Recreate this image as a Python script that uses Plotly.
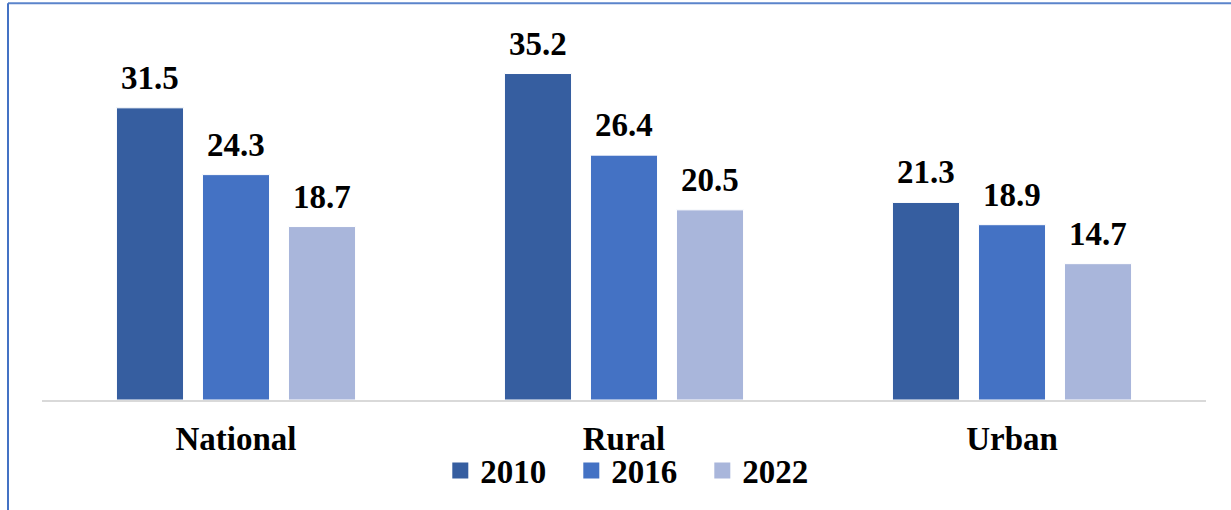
import plotly.graph_objects as go

categories = ["National", "Rural", "Urban"]
years = ["2010", "2016", "2022"]
values_2010 = [31.5, 35.2, 21.3]
values_2016 = [24.3, 26.4, 18.9]
values_2022 = [18.7, 20.5, 14.7]
colors = ["#365EA0", "#4472C4", "#A9B6DB"]

series = [values_2010, values_2016, values_2022]

FONT = "Liberation Serif"
W, H = 1231, 510
ML, MR, MT, MB = 42, 25, 29, 108
BARGAP = 0.335
GROUPGAP = 0.22

fig = go.Figure()
for yr, vals, col in zip(years, series, colors):
    fig.add_trace(go.Bar(
        x=categories, y=vals, name=yr, showlegend=False, legendgroup=yr,
        marker=dict(color=col, line=dict(color="white", width=1)),
        hovertemplate="%{x}, " + yr + ": %{y}<extra></extra>",
    ))
# legend entries (square swatches)
for yr, col in zip(years, colors):
    fig.add_trace(go.Scatter(
        x=[None], y=[None], mode="markers", name=f"<b>{yr}</b>",
        legendgroup=yr, showlegend=True, hoverinfo="skip",
        marker=dict(symbol="square", size=16, color=col),
    ))

# value labels above bars (annotations anchored to data coordinates)
plot_w = W - ML - MR
slot = plot_w / len(categories)
bar_slot = slot * (1 - BARGAP) / len(series)
annotations = []
for i, vals in enumerate(series):
    shift = (i - (len(series) - 1) / 2) * bar_slot
    for c, v in zip(categories, vals):
        annotations.append(dict(
            x=c, y=v, xref="x", yref="y", text=f"<b>{v:.1f}</b>",
            showarrow=False, xshift=shift, yanchor="bottom", yshift=10,
            font=dict(family=FONT, size=33, color="#000000"),
        ))

fig.update_layout(
    width=W, height=H,
    margin=dict(l=ML, r=MR, t=MT, b=MB),
    paper_bgcolor="white", plot_bgcolor="white",
    barmode="group", bargap=BARGAP, bargroupgap=GROUPGAP,
    font=dict(family=FONT, size=33, color="#000000"),
    annotations=annotations,
    showlegend=True,
    legend=dict(
        orientation="h", x=0.511, xanchor="center", y=-0.19, yanchor="middle",
        font=dict(family=FONT, size=33, color="#000000"),
        entrywidth=86, entrywidthmode="pixels", itemsizing="trace",
        bgcolor="rgba(0,0,0,0)", itemclick=False, itemdoubleclick=False,
    ),
    xaxis=dict(
        type="category", showline=True, linecolor="#D9D9D9", linewidth=2,
        showgrid=False, zeroline=False, ticks="",
        tickfont=dict(family=FONT, size=33, color="#000000"),
        ticklabelstandoff=8,
        tickvals=categories, ticktext=[f"<b>{c}</b>" for c in categories],
    ),
    yaxis=dict(range=[0, 40], visible=False, showgrid=False, zeroline=False),
    shapes=[
        dict(type="line", xref="paper", yref="paper",
             x0=(8 - ML) / plot_w, x1=(W + 5 - ML) / plot_w,
             y0=(H - MB - 3) / (H - MT - MB), y1=(H - MB - 3) / (H - MT - MB),
             line=dict(color="#5B84CB", width=2)),
        dict(type="line", xref="paper", yref="paper",
             x0=(8 - ML) / plot_w, x1=(8 - ML) / plot_w,
             y0=(H - MB - 3) / (H - MT - MB), y1=-(MB + 5) / (H - MT - MB),
             line=dict(color="#4472C4", width=2)),
    ],
)

fig.write_html("out.html")
